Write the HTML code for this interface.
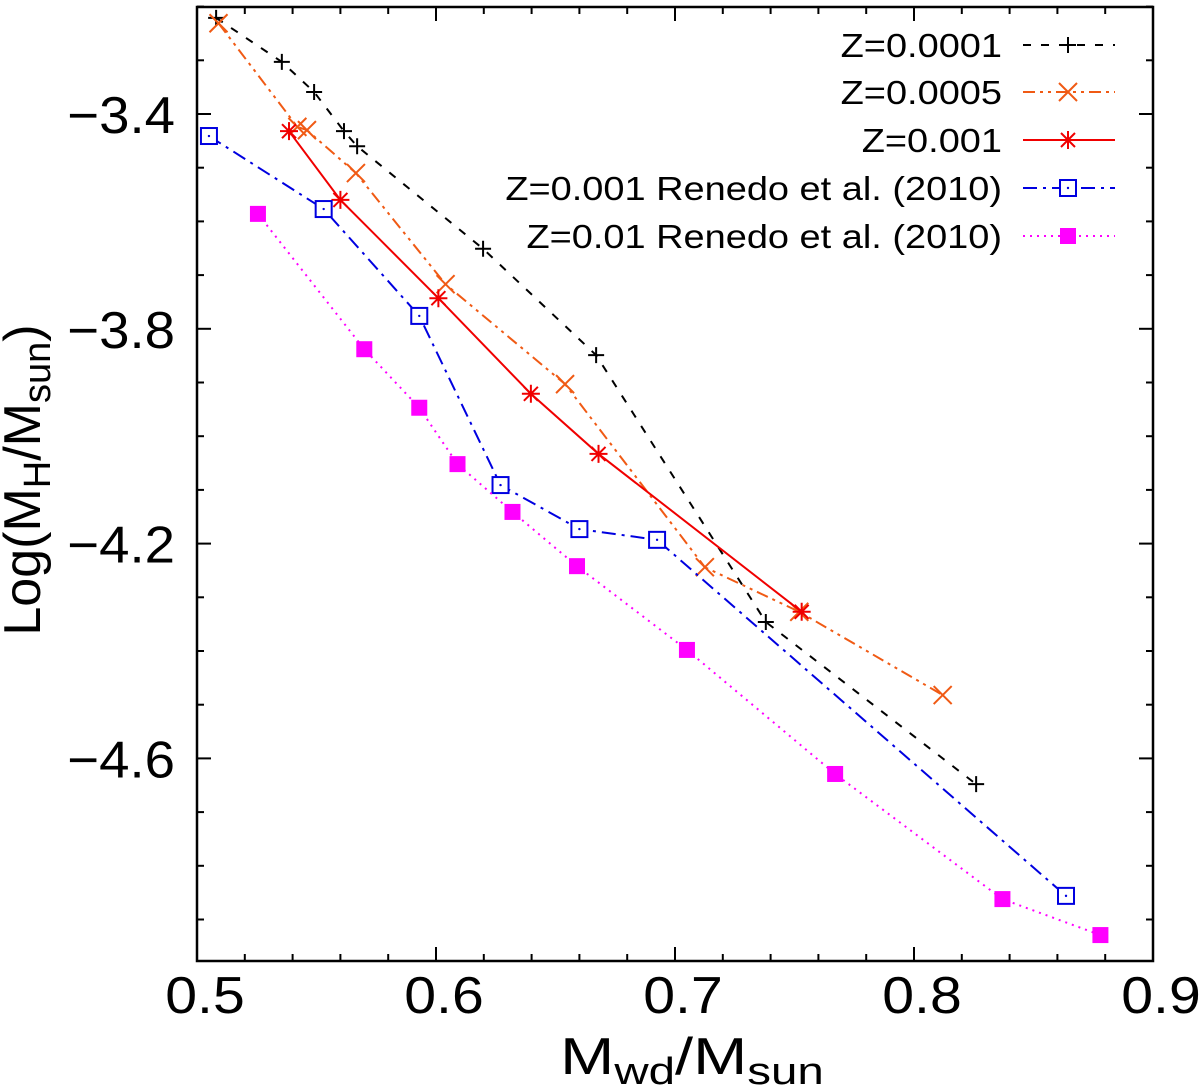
<!DOCTYPE html>
<html><head><meta charset="utf-8"><style>
html,body{margin:0;padding:0;background:#fff;}
svg{display:block;font-family:"Liberation Sans",Arial,sans-serif;}
</style></head><body>
<svg id="chart" width="1200" height="1092" viewBox="0 0 1200 1092">
<g id="axes"></g>
<g id="series"></g>
<g id="legend"></g>
<text x="40" y="480" font-size="52" text-anchor="middle" transform="rotate(-90 40 480)">Log(M<tspan font-size="38" dy="10">H</tspan><tspan dy="-10">/M</tspan><tspan font-size="38" dy="10">sun</tspan><tspan dy="-10">)</tspan></text>
<text x="692" y="1074" font-size="52" text-anchor="middle" transform="translate(692,0) scale(1.25,1) translate(-692,0)">M<tspan font-size="38" dy="10">wd</tspan><tspan dy="-10">/M</tspan><tspan font-size="38" dy="10">sun</tspan></text>
</svg>
<script>
const xTicks=[0.5,0.6,0.7,0.8,0.9];
const xTickLabels=["0.5","0.6","0.7","0.8","0.9"];
const yTicks=[-3.4,-3.8,-4.2,-4.6];
const yTickLabels=["\u22123.4","\u22123.8","\u22124.2","\u22124.6"];
const seriesNames=["Z=0.0001","Z=0.0005","Z=0.001","Z=0.001 Renedo et al. (2010)","Z=0.01 Renedo et al. (2010)"];
const s1x=[0.508,0.5355,0.549,0.5615,0.567,0.6197,0.667,0.738,0.826];
const s1y=[-3.221,-3.303,-3.359,-3.432,-3.46,-3.651,-3.849,-4.346,-4.648];
const s2x=[0.509,0.542,0.546,0.5665,0.604,0.654,0.7125,0.752,0.812];
const s2y=[-3.231,-3.424,-3.43,-3.51,-3.717,-3.903,-4.244,-4.327,-4.482];
const s3x=[0.5385,0.56,0.601,0.6397,0.668,0.753];
const s3y=[-3.432,-3.56,-3.743,-3.921,-4.033,-4.327];
const s4x=[0.505,0.553,0.593,0.627,0.66,0.6925,0.8636];
const s4y=[-3.441,-3.577,-3.776,-4.091,-4.173,-4.193,-4.856];
const s5x=[0.5255,0.570,0.593,0.609,0.632,0.659,0.705,0.767,0.837,0.878];
const s5y=[-3.586,-3.838,-3.947,-4.052,-4.141,-4.242,-4.398,-4.629,-4.862,-4.929];

const NS="http://www.w3.org/2000/svg";
const L=197,R=1153,T=7,B=961;
const X=v=>L+(v-0.5)*2390;
const Y=v=>114+(-3.4-v)*537;
function mk(tag,attrs,parent){const e=document.createElementNS(NS,tag);for(const k in attrs)e.setAttribute(k,attrs[k]);parent.appendChild(e);return e;}
function sc(ax,f){return `translate(${ax},0) scale(${f},1) translate(${-ax},0)`;}
const axes=document.getElementById('axes');
const frame=mk('rect',{x:L,y:T,width:R-L,height:B-T,fill:'none',stroke:'#000','stroke-width':2.5},axes);


for(let i=0;i<=20;i++){const v=0.5+i*0.02;const x=X(v);const len=(i%5===0)?14:7;
 mk('line',{x1:x,y1:B,x2:x,y2:B-len,stroke:'#000','stroke-width':2},axes);
 mk('line',{x1:x,y1:T,x2:x,y2:T+len,stroke:'#000','stroke-width':2},axes);}
for(let v=-3.2;v>=-4.98;v-=0.1){const y=Y(v);const major=Math.abs(Math.round(v*10)%4)===2;const len=major?14:7;
 mk('line',{x1:L,y1:y,x2:L+len,y2:y,stroke:'#000','stroke-width':2},axes);
 mk('line',{x1:R,y1:y,x2:R-len,y2:y,stroke:'#000','stroke-width':2},axes);}
xTicks.forEach((v,i)=>{const cx=X(v)+8;const t=mk('text',{x:cx,y:1013,'font-size':52,'text-anchor':'middle',transform:sc(cx,1.1)},axes);t.textContent=xTickLabels[i];
 
 });
yTicks.forEach((v,i)=>{const t=mk('text',{x:175,y:Y(v)+19,'font-size':52,'text-anchor':'end',transform:sc(175,1.05)},axes);t.textContent=yTickLabels[i];
 
 });

const styles=[
 {c:'#000',dash:'8,10',m:'plus'},
 {c:'#f05a14',dash:'12,5,3,5,3,5',m:'x'},
 {c:'#f00000',dash:'',m:'star'},
 {c:'#0000e0',dash:'14,6,3,6',m:'sq'},
 {c:'#ff00ff',dash:'2,5',m:'fsq'}];
function marker(g,type,x,y,c){
 const sw=2;
 if(type==='plus'){mk('path',{d:`M${x-8},${y}H${x+8}M${x},${y-8}V${y+8}`,stroke:c,'stroke-width':sw,fill:'none'},g);}
 else if(type==='x'){mk('path',{d:`M${x-9},${y-9}L${x+9},${y+9}M${x-9},${y+9}L${x+9},${y-9}`,stroke:c,'stroke-width':sw,fill:'none'},g);}
 else if(type==='star'){mk('path',{d:`M${x-9},${y}H${x+9}M${x},${y-9}V${y+9}M${x-7},${y-7}L${x+7},${y+7}M${x-7},${y+7}L${x+7},${y-7}`,stroke:c,'stroke-width':sw,fill:'none'},g);}
 else if(type==='sq'){mk('rect',{x:x-8,y:y-8,width:16,height:16,stroke:c,'stroke-width':sw,fill:'#fff'},g);mk('circle',{cx:x,cy:y,r:1.2,fill:c},g);}
 else {mk('rect',{x:x-8,y:y-8,width:16,height:16,fill:c},g);}
}
const sx=[s1x,s2x,s3x,s4x,s5x],sy=[s1y,s2y,s3y,s4y,s5y];
const seriesG=document.getElementById('series');
const legendG=document.getElementById('legend');
const legY=[45,92,140,188,236];
for(let s=0;s<5;s++){
 const st=styles[s];
 const g=mk('g',{},seriesG);
 
 
 const pts=sx[s].map((v,i)=>X(v)+','+Y(sy[s][i])).join(' ');
 const a={points:pts,fill:'none',stroke:st.c,'stroke-width':2};
 if(st.dash)a['stroke-dasharray']=st.dash;
 mk('polyline',a,g);
 sx[s].forEach((v,i)=>marker(g,st.m,X(v),Y(sy[s][i]),st.c));
 const lg=mk('g',{},legendG);
 
 
 const t=mk('text',{x:1002,y:legY[s]+12,'font-size':33,'text-anchor':'end',transform:sc(1002,1.15)},lg);
 t.textContent=seriesNames[s];
 const la={x1:1023,y1:legY[s],x2:1115,y2:legY[s],stroke:st.c,'stroke-width':2};
 if(st.dash)la['stroke-dasharray']=st.dash;
 mk('line',la,lg);
 marker(lg,st.m,1068,legY[s],st.c);
}
</script>
</body></html>
